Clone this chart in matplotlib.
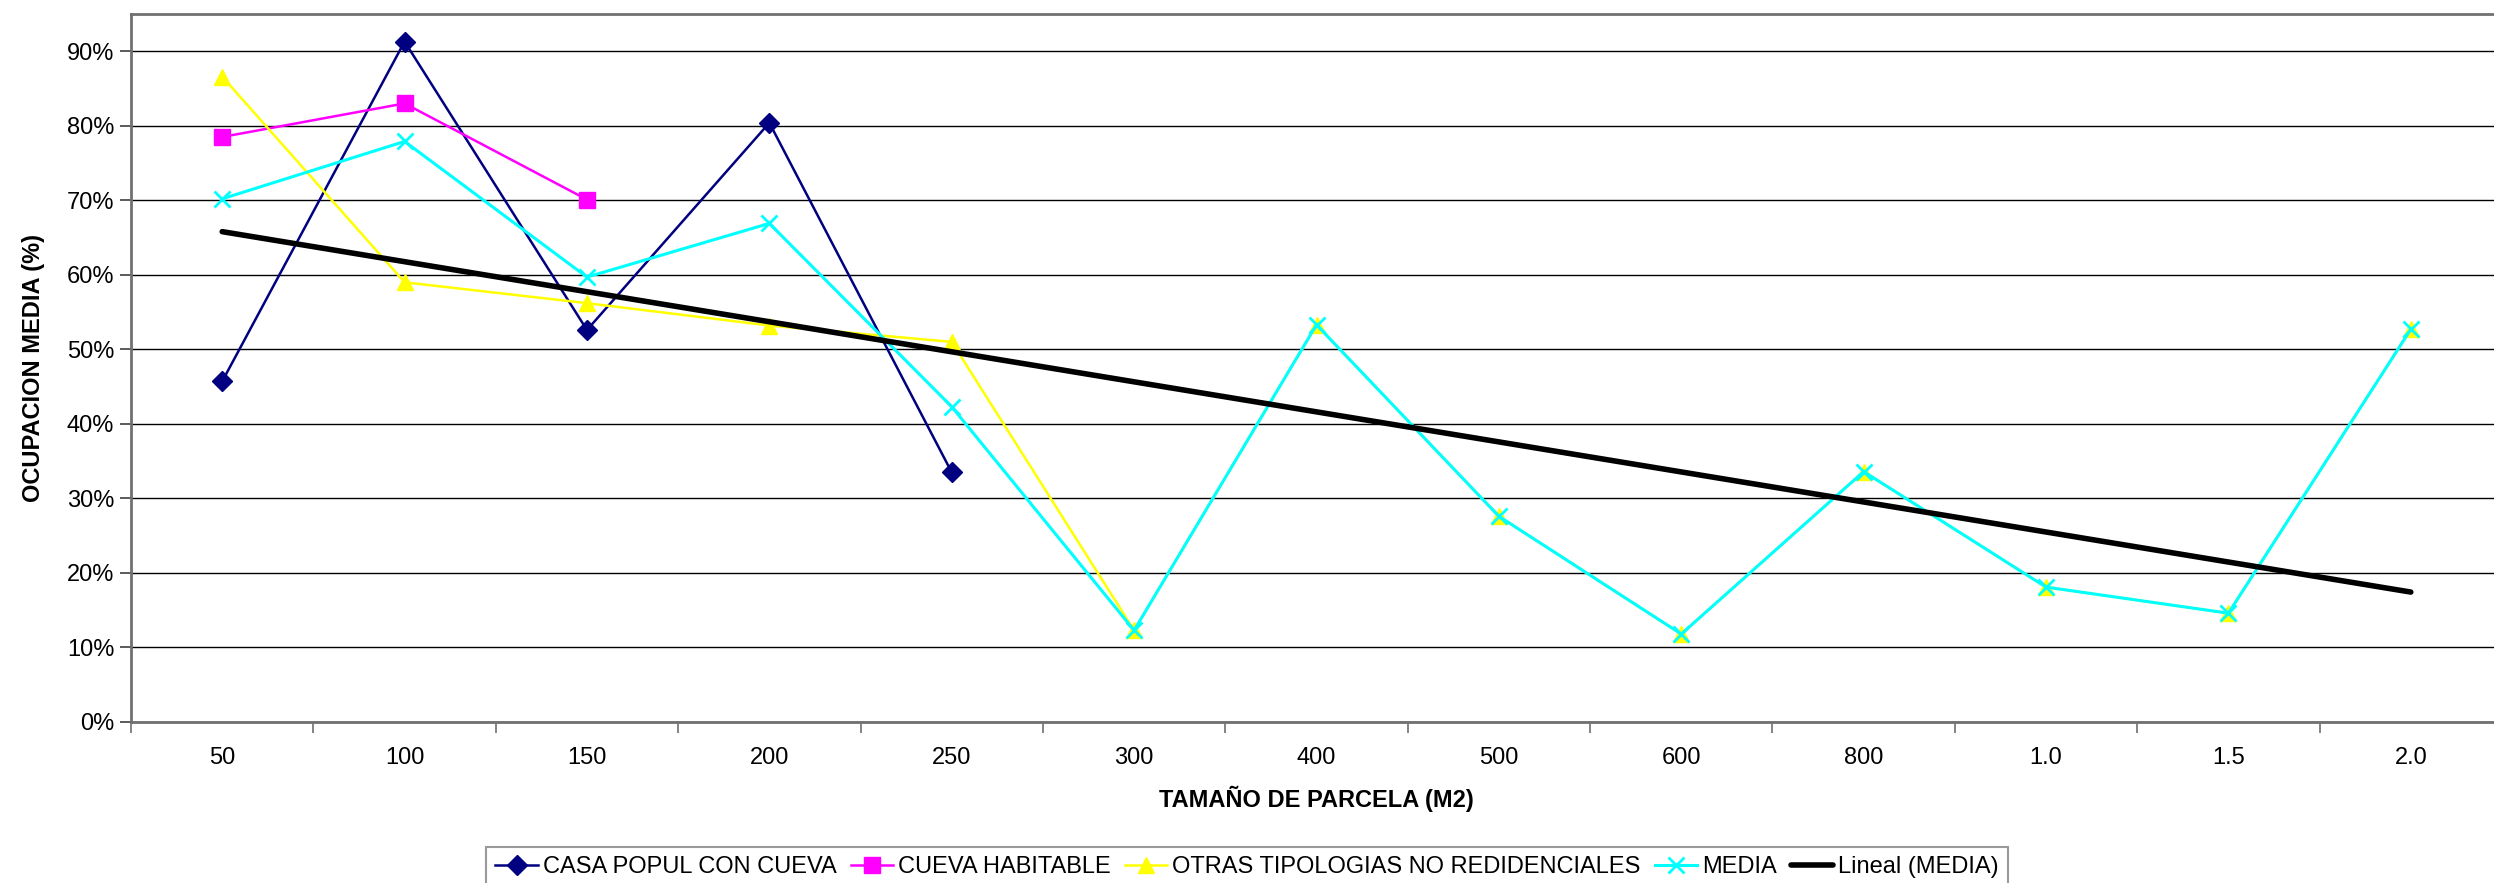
import matplotlib
matplotlib.use("Agg")
import matplotlib.pyplot as plt
import numpy as np
from matplotlib.ticker import FixedLocator, PercentFormatter

plt.rcParams['font.family'] = ['Liberation Sans', 'DejaVu Sans']

categorias = ['50', '100', '150', '200', '250', '300', '400', '500', '600', '800', '1.0', '1.5', '2.0']

casa_popul = [45.7, 91.3, 52.6, 80.4, 33.5]
cueva_habitable = [78.5, 83.0, 70.1]
otras_tipologias = [86.6, 59.0, 56.2, 53.2, 51.0, 12.3, 53.3, 27.6, 11.8, 33.6, 18.1, 14.6, 52.7]
media = [70.2, 77.9, 59.7, 66.9, 42.3, 12.3, 53.3, 27.6, 11.8, 33.6, 18.1, 14.6, 52.7]

W, H = 2494, 883
fig = plt.figure(figsize=(W / 100, H / 100), dpi=100)
ax = fig.add_axes([131 / W, 1 - 722 / H, (2502 - 131) / W, (722 - 14) / H])

x = np.arange(len(categorias))

ax.plot(x[:len(casa_popul)], casa_popul, color='#000080', lw=1.8, marker='D', ms=10,
        label='CASA POPUL CON CUEVA', zorder=3)
ax.plot(x[:len(cueva_habitable)], cueva_habitable, color='#FF00FF', lw=1.8, marker='s', ms=11,
        label='CUEVA HABITABLE', zorder=3)
ax.plot(x, otras_tipologias, color='#FFFF00', lw=1.8, marker='^', ms=12,
        label='OTRAS TIPOLOGIAS NO REDIDENCIALES', zorder=3)
ax.plot(x, media, color='#00FFFF', lw=2.2, marker='x', ms=11, mew=2,
        label='MEDIA', zorder=4)

# linea de tendencia (lineal) sobre MEDIA
k, b = np.polyfit(x + 1, media, 1)
ax.plot(x, k * (x + 1) + b, color='black', lw=4, solid_capstyle='round',
        label='Lineal (MEDIA)', zorder=5)

ax.set_xlim(-0.5, len(categorias) - 0.5)
ax.set_ylim(0, 95)
ax.set_yticks(np.arange(0, 91, 10))
ax.yaxis.set_major_formatter(PercentFormatter(decimals=0))
ax.set_xticks(x)
ax.set_xticklabels(categorias)
ax.xaxis.set_minor_locator(FixedLocator(np.arange(-0.5, len(categorias), 1)))
ax.tick_params(axis='x', which='major', length=0, pad=18, labelsize=17)
ax.tick_params(axis='x', which='minor', length=8, width=1.2, color='#707070')
ax.tick_params(axis='y', which='major', length=8, width=1.2, color='#404040', labelsize=17, pad=4)

ax.grid(axis='y', color='black', lw=1)
ax.set_axisbelow(True)
for s in ['left', 'bottom', 'top']:
    ax.spines[s].set_color('#707070')
    ax.spines[s].set_linewidth(2)
ax.spines['right'].set_visible(False)

ax.set_ylabel('OCUPACION MEDIA (%)', fontsize=17, fontweight='bold', labelpad=16)
ax.set_xlabel('TAMAÑO DE PARCELA (M2)', fontsize=17, fontweight='bold', labelpad=12)

leg = fig.legend(loc='upper center', bbox_to_anchor=(0.5, 1 - 847 / H), ncol=5,
                 fontsize=17, frameon=True, fancybox=False, edgecolor='#808080',
                 handlelength=1.8, handletextpad=0.2, columnspacing=0.6,
                 borderpad=0.4, borderaxespad=0)
leg.get_frame().set_linewidth(1.5)

fig.savefig('out.png', dpi=100)
